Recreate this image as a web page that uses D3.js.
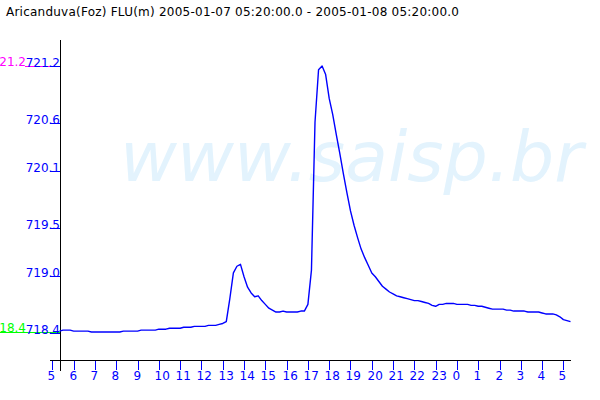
<!DOCTYPE html>
<html><head><meta charset="utf-8">
<script src="https://cdn.jsdelivr.net/npm/d3@7"></script>
<style>body{margin:0;background:#fff} svg{display:block}</style>
</head><body>
<svg id="chart" width="600" height="400"></svg>
<script>
// ---- data ----
const titleText = "Aricanduva(Foz) FLU(m) 2005-01-07 05:20:00.0 - 2005-01-08 05:20:00.0";
const watermarkText = "www.saisp.br";
const startTime = "2005-01-07T05:20:00";
const endTime = "2005-01-08T05:20:00";
const stepMinutes = 10;
const levels = [
  718.42,718.43,718.43,718.43,718.42,718.42,718.42,718.42,718.42,718.41,
  718.41,718.41,718.41,718.41,718.41,718.41,718.41,718.41,718.42,718.42,
  718.42,718.42,718.42,718.43,718.43,718.43,718.43,718.43,718.44,718.44,
  718.44,718.45,718.45,718.45,718.45,718.46,718.46,718.46,718.47,718.47,
  718.47,718.47,718.48,718.48,718.48,718.49,718.50,718.52,718.76,719.03,
  719.10,719.12,718.99,718.88,718.82,718.78,718.79,718.74,718.70,718.66,
  718.64,718.62,718.62,718.63,718.62,718.62,718.62,718.62,718.63,718.63,
  718.70,719.06,720.61,721.16,721.20,721.11,720.86,720.69,720.48,720.28,
  720.07,719.87,719.68,719.53,719.40,719.28,719.19,719.11,719.03,718.99,
  718.94,718.89,718.86,718.83,718.81,718.79,718.78,718.77,718.76,718.75,
  718.74,718.74,718.73,718.72,718.71,718.69,718.68,718.70,718.70,718.71,
  718.71,718.71,718.70,718.70,718.70,718.70,718.69,718.69,718.68,718.68,
  718.67,718.66,718.65,718.65,718.65,718.65,718.64,718.64,718.63,718.63,
  718.63,718.63,718.62,718.62,718.62,718.62,718.61,718.60,718.60,718.60,
  718.59,718.57,718.54,718.53,718.52
];
const yTicks = [718.4, 719.0, 719.5, 720.1, 720.6, 721.2];

// ---- drawing ----
const svg = d3.select("#chart");
const parse = d3.timeParse("%Y-%m-%dT%H:%M:%S");
const t0 = parse(startTime), t1 = parse(endTime);
const times = levels.map((v, i) => d3.timeMinute.offset(t0, i * stepMinutes));

const x = d3.scaleTime().domain([t0, t1]).range([59.5, 570.5]);
const y = d3.scaleLinear().domain(d3.extent(yTicks)).range([333, 66]);
const font = "DejaVu Sans, Verdana, sans-serif";
const blue = "#0000ff";

// watermark
svg.append("text")
  .attr("x", 120).attr("y", 181)
  .attr("font-family", font).attr("font-style", "italic")
  .attr("font-size", 70).attr("fill", "#e3f3fd")
  .attr("textLength", 463).attr("lengthAdjust", "spacingAndGlyphs")
  .text(watermarkText);

// title
svg.append("text")
  .attr("x", 6).attr("y", 16)
  .attr("font-family", font).attr("font-size", 12).attr("fill", "#000")
  .attr("textLength", 453).attr("lengthAdjust", "spacing")
  .text(titleText);

// min / max markers
const vMax = d3.max(levels), vMin = d3.min(levels);
const fmt1 = d3.format(".1f");
svg.append("line").attr("x1", 25).attr("x2", 60)
  .attr("y1", Math.round(y(vMax)) + 0.5).attr("y2", Math.round(y(vMax)) + 0.5)
  .attr("stroke", "#ff00ff");
svg.append("text").attr("x", 26).attr("y", y(vMax))
  .attr("text-anchor", "end").attr("font-family", font).attr("font-size", 12)
  .attr("fill", "#ff00ff").text(fmt1(vMax));
svg.append("line").attr("x1", 0).attr("x2", 60)
  .attr("y1", Math.round(y(vMin)) + 0.5).attr("y2", Math.round(y(vMin)) + 0.5)
  .attr("stroke", "#00ff00");
svg.append("text").attr("x", 26).attr("y", y(vMin))
  .attr("text-anchor", "end").attr("font-family", font).attr("font-size", 12)
  .attr("fill", "#00ff00").text(fmt1(vMin));

// y ticks
const yg = svg.append("g");
yTicks.forEach(v => {
  const py = Math.round(y(v)) + 0.5;
  yg.append("line").attr("x1", 50).attr("x2", 60).attr("y1", py).attr("y2", py)
    .attr("stroke", blue);
  yg.append("text").attr("x", 60).attr("y", py)
    .attr("text-anchor", "end").attr("font-family", font).attr("font-size", 12)
    .attr("fill", blue).text(fmt1(v));
});

// x ticks (every hour)
const xTicks = d3.timeHour.range(d3.timeHour.floor(t0), d3.timeMinute.offset(t1, 1));
const hourFmt = d3.timeFormat("%-H");
const xg = svg.append("g");
xTicks.forEach(t => {
  const px = Math.round(x(t)) + 0.5;
  xg.append("line").attr("x1", px).attr("x2", px).attr("y1", 360).attr("y2", 370)
    .attr("stroke", blue);
  xg.append("text").attr("x", px - 5).attr("y", 379.5)
    .attr("font-family", font).attr("font-size", 12)
    .attr("fill", blue).text(hourFmt(t));
});

// axes lines
svg.append("line").attr("x1", 50).attr("x2", 571).attr("y1", 360.5).attr("y2", 360.5)
  .attr("stroke", "#000");
svg.append("line").attr("x1", 60.5).attr("x2", 60.5).attr("y1", 40).attr("y2", 371)
  .attr("stroke", "#000");

// data line
const line = d3.line().x((d, i) => x(times[i])).y(d => y(d));
svg.append("path").datum(levels)
  .attr("d", line).attr("fill", "none")
  .attr("stroke", blue).attr("stroke-width", 1.4).attr("stroke-linejoin", "round");
</script>
</body></html>
